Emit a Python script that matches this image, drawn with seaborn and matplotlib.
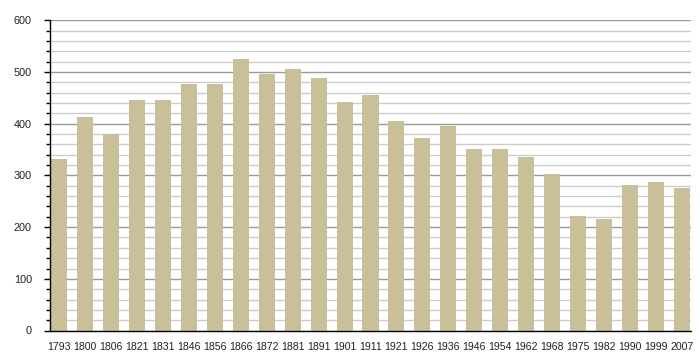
import matplotlib
matplotlib.use("Agg")
import matplotlib.pyplot as plt
import seaborn as sns
import pandas as pd
from matplotlib.ticker import MultipleLocator

years = ["1793", "1800", "1806", "1821", "1831", "1846", "1856", "1866", "1872",
         "1881", "1891", "1901", "1911", "1921", "1926", "1936", "1946", "1954",
         "1962", "1968", "1975", "1982", "1990", "1999", "2007"]
population = [332, 413, 380, 447, 447, 477, 477, 525, 496, 506, 489, 442, 456,
              405, 372, 395, 351, 351, 336, 303, 222, 216, 281, 287, 276]

df = pd.DataFrame({"year": years, "pop": population})

sns.set_theme(style="white")
plt.rcParams["font.family"] = ["Liberation Sans", "DejaVu Sans"]

fig = plt.figure(figsize=(7, 3.6), dpi=100)
ax = fig.add_axes([50 / 700, 1 - 330.5 / 360, 641 / 700, 310 / 360])

ax.set_ylim(0, 600)
ax.yaxis.set_major_locator(MultipleLocator(100))
ax.yaxis.set_minor_locator(MultipleLocator(20))
ax.grid(which="major", axis="y", color="#9a9a9a", linewidth=1)
ax.grid(which="minor", axis="y", color="#cccccc", linewidth=1)
ax.set_axisbelow(True)

sns.barplot(data=df, x="year", y="pop", color="#c9c09a", width=0.62,
            saturation=1, ax=ax, linewidth=0, edgecolor="none")
for p in ax.patches:
    p.set_zorder(3)

ax.set_ylim(0, 600)
ax.set_xlim(-0.35, len(years) - 0.65)

for s in ["top", "right"]:
    ax.spines[s].set_visible(False)
for s in ["left", "bottom"]:
    ax.spines[s].set_color("black")
    ax.spines[s].set_linewidth(1)
    ax.spines[s].set_zorder(4)

ax.tick_params(axis="y", which="major", left=True, length=4, width=1, color="black",
               labelsize=7.8, labelcolor="#222222", pad=9)
ax.tick_params(axis="y", which="minor", left=True, length=3, width=1, color="black")
ax.tick_params(axis="x", bottom=False, labelsize=7.6, labelcolor="#222222", pad=2)

ax.set_xlabel("")
ax.set_ylabel("")

fig.savefig("out.png", dpi=100)
